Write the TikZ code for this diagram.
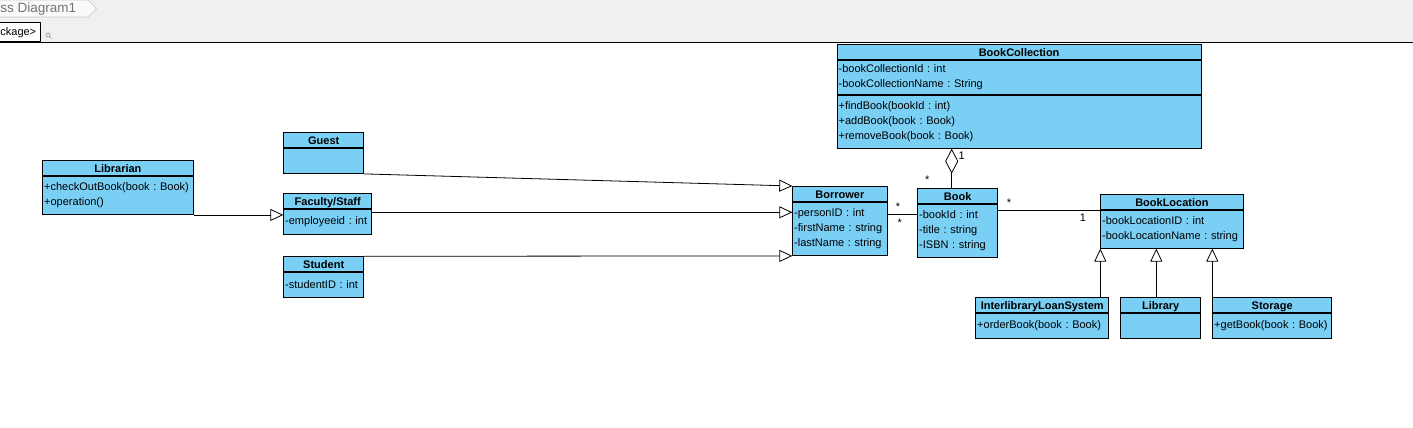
\documentclass[tikz,border=0pt]{standalone}
\usepackage{fontspec}
\setmainfont{Liberation Sans}
\usetikzlibrary{positioning,arrows.meta}
\definecolor{umlblue}{RGB}{122,207,245}
\definecolor{chrome}{RGB}{240,240,240}
\newcommand{\umlfont}{\fontsize{11}{15}\selectfont}
\frenchspacing
\tikzset{
  clshead/.style={draw, fill=umlblue, anchor=north west, inner sep=0pt, minimum height=15pt,
    text height=9pt, text depth=0.6pt, font=\umlfont\bfseries},
  clsbody/.style={draw, fill=umlblue, inner xsep=1.5pt, inner ysep=0pt, align=left, font=\umlfont},
  gen/.style={-{Triangle[open,length=13pt,width=12pt]}},
  agg/.style={{Diamond[open,length=25pt,width=13pt]}-},
  mult/.style={font=\umlfont, inner sep=0pt},
}

\begin{document}
\begin{tikzpicture}[x=1pt,y=-1pt,line width=0.8pt]
        \useasboundingbox (0,0) rectangle (1413,428);
        % tab bar
        \fill[chrome] (0,0) rectangle (1413,42);
        \draw[line width=0.6pt, draw=black!22, fill=black!2] (-1,0) -- (88,0) -- (96.5,8.5) -- (88,17) -- (-1,17);
        \node[anchor=base west, inner sep=0pt, text=black!55, font=\fontsize{13.5}{15}\selectfont] (tab) at (0,12.7) {ss Diagram1};
        \draw[fill=white] (-2,22.3) rectangle (40.7,41.7);
        \node[anchor=base west, inner sep=0pt, font=\umlfont] (pkg) at (0,36) {ckage>};
        \draw[black!45, line width=0.6pt] (48,35) circle[radius=2pt] (49.5,36.5) -- (51.5,38.5);
        \draw[line width=1.6pt] (0,42.5) -- (1413,42.5);

        % users
        \node[clshead, minimum width=150.4pt] (librarian) at (42.3,160.3) {Librarian};
        \node[clsbody, below=0pt of librarian, text width=147.4pt, minimum height=38pt] (librarianops)
            {+checkOutBook(book : Book)\\+operation()};
        \node[clshead, minimum width=80pt] (guest) at (283.3,132.3) {Guest};
        \node[clsbody, below=0pt of guest, text width=77pt, minimum height=25pt] (guestattr) {};
        \node[clshead, minimum width=88pt] (faculty) at (283.3,193.3) {Faculty/Staff};
        \node[clsbody, below=0pt of faculty, text width=85pt, minimum height=25pt] (facultyattr) {-employeeid : int};
        \node[clshead, minimum width=80pt] (student) at (283.3,256.3) {Student};
        \node[clsbody, below=0pt of student, text width=77pt, minimum height=25pt] (studentattr) {-studentID : int};
        \node[clshead, minimum width=94.4pt] (borrower) at (792.3,186) {Borrower};
        \node[clsbody, below=0pt of borrower, text width=91.4pt, minimum height=53.3pt] (borrowerattr)
            {-personID : int\\-firstName : string\\-lastName : string};

        % books
        \node[clshead, minimum width=364pt] (collection) at (836.7,44.3) {BookCollection};
        \node[clsbody, below=0pt of collection, text width=361pt, minimum height=34pt] (collectionattr)
            {-bookCollectionId : int\\-bookCollectionName : String};
        \node[clsbody, below=0pt of collectionattr, text width=361pt, minimum height=53pt] (collectionops)
            {+findBook(bookId : int)\\+addBook(book : Book)\\+removeBook(book : Book)};
        \node[clshead, minimum width=80pt] (book) at (917.3,188.3) {Book};
        \node[clsbody, below=0pt of book, text width=77pt, minimum height=53pt] (bookattr)
            {-bookId : int\\-title : string\\-ISBN : string};

        % locations
        \node[clshead, minimum width=142.4pt] (location) at (1100.3,194.3) {BookLocation};
        \node[clsbody, below=0pt of location, text width=139.4pt, minimum height=37.7pt] (locationattr)
            {-bookLocationID : int\\-bookLocationName : string};
        \node[clshead, minimum width=133pt] (loansys) at (975.3,297.3) {InterlibraryLoanSystem};
        \node[clsbody, below=0pt of loansys, text width=130pt, minimum height=25pt] (loansysops) {+orderBook(book : Book)};
        \node[clshead, minimum width=80pt] (library) at (1120.3,297.3) {Library};
        \node[clsbody, below=0pt of library, text width=77pt, minimum height=25pt] (libraryops) {};
        \node[clshead, minimum width=119pt] (storage) at (1212.3,297.3) {Storage};
        \node[clsbody, below=0pt of storage, text width=116pt, minimum height=25pt] (storageops) {+getBook(book : Book)};

        % generalizations
        \coordinate (facultyline) at (0,212.3);
        \coordinate (libraryx) at (1156.3,0);
        \draw[gen] (librarianops.south east) -- (facultyattr.west |- librarianops.south east);
        \draw[gen] (guestattr.south east) -- (borrower.north west);
        \draw[gen] (facultyattr.east |- facultyline) -- (borrowerattr.west |- facultyline);
        \draw[gen] (student.north east) -- (borrowerattr.south west);
        \draw[gen] (loansys.north -| locationattr.south west) -- (locationattr.south west);
        \draw[gen] (library.north -| libraryx) -- (locationattr.south -| libraryx);
        \draw[gen] (storage.north west) -- (locationattr.south -| storage.north west);

        % associations
        \coordinate (borrowline) at (0,214);
        \coordinate (aggx) at (951.7,0);
        \coordinate (locline) at (0,210.7);
        \draw (borrowerattr.east |- borrowline) -- (bookattr.west |- borrowline)
            node[mult, pos=0.35, yshift=7.75pt] (m1) {*}
            node[mult, pos=0.41, yshift=-8.25pt] (m2) {*};
        \draw[agg] (collectionops.south -| aggx) -- (book.north -| aggx)
            node[mult, pos=0.167, xshift=10pt] (m3) {1}
            node[mult, pos=0.72, xshift=-24.4pt, yshift=-2.25pt] (m4) {*};
        \draw (bookattr.east |- locline) -- (locationattr.west |- locline)
            node[mult, pos=0.107, yshift=8.45pt] (m5) {*}
            node[mult, pos=0.83, yshift=-6.6pt] (m6) {1};
\end{tikzpicture}
\end{document}
